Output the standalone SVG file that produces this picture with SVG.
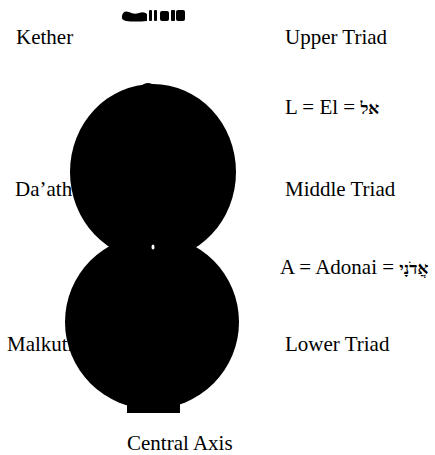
<svg xmlns="http://www.w3.org/2000/svg" width="435" height="455" viewBox="0 0 435 455">
<style>
.t{font-family:"Liberation Serif","Times New Roman",serif;font-size:21px;fill:#000}
.h{font-size:17px;font-weight:bold}
.b{fill:#000}
</style>
<rect width="435" height="455" fill="#fff"/>
<g id="labels-left">
<text class="t" x="16" y="44">Kether</text>
<text class="t" x="15" y="196">Da’ath</text>
<text class="t" x="7" y="351">Malkuth</text>
</g>
<g id="upper-sphere">
<ellipse class="b" cx="153" cy="172" rx="83" ry="88"/>
<path class="b" d="M140,87 Q148,79 156,87 Z"/>
</g>
<g id="lower-sphere">
<circle class="b" cx="152" cy="322" r="87"/>
<rect class="b" x="127" y="404" width="53" height="9"/>
</g>
<ellipse cx="153" cy="247" rx="1.5" ry="2.5" fill="#fff"/>
<g id="top-mark">
<path class="b" d="M122,16 Q123,10 129,12 Q134,15 139,13 Q144,11 147,14 L147,21 Q135,22 126,21 Q121,20 122,16 Z"/>
<rect class="b" x="149" y="10" width="3" height="11" rx="1"/>
<rect class="b" x="154" y="10" width="3" height="11" rx="1"/>
<rect class="b" x="160" y="11" width="9" height="10" rx="2"/>
<rect class="b" x="171" y="10" width="4" height="11" rx="1"/>
<rect class="b" x="176" y="10" width="9" height="11" rx="2"/>
</g>
<g id="labels-right">
<text class="t" x="285" y="44">Upper Triad</text>
<text class="t" x="285" y="114">L = El = <tspan class="h">אל</tspan></text>
<text class="t" x="285" y="196">Middle Triad</text>
<text class="t" x="280" y="274">A = Adonai = <tspan class="h">אֲדֹנָי</tspan></text>
<text class="t" x="285" y="351">Lower Triad</text>
<text class="t" x="127" y="450">Central Axis</text>
</g>
</svg>
